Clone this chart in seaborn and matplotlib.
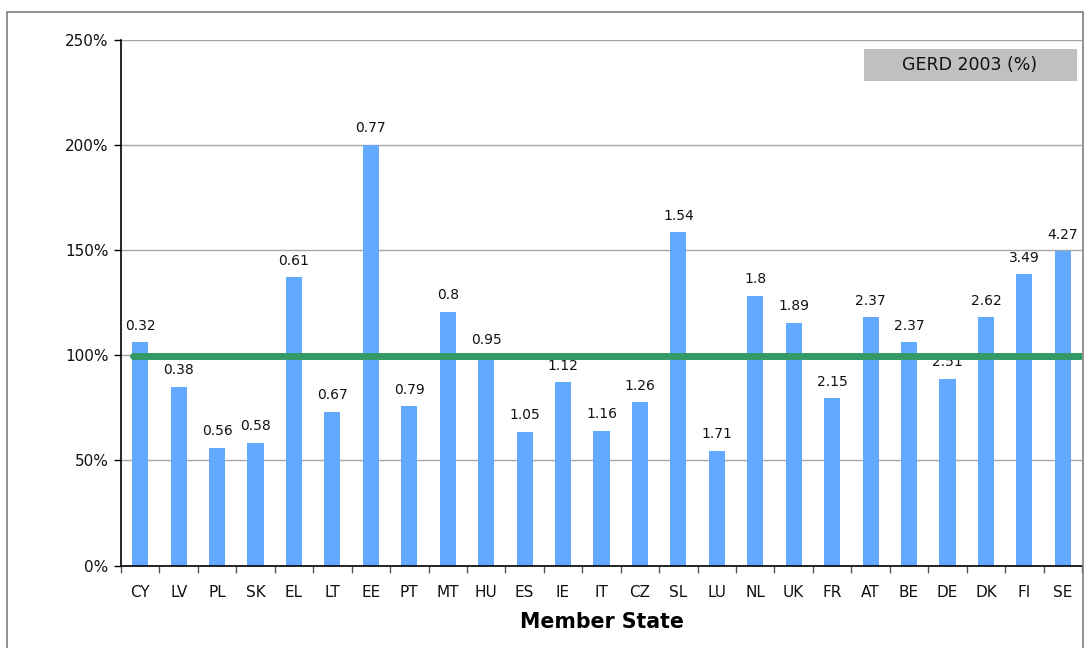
import matplotlib
matplotlib.use("Agg")
import matplotlib.pyplot as plt
import seaborn as sns
import pandas as pd
from matplotlib.patches import Rectangle
from matplotlib.ticker import PercentFormatter, FixedLocator

states = ["CY", "LV", "PL", "SK", "EL", "LT", "EE", "PT", "MT", "HU", "ES", "IE", "IT",
          "CZ", "SL", "LU", "NL", "UK", "FR", "AT", "BE", "DE", "DK", "FI", "SE"]
ratio_pct = [106.1, 84.8, 55.8, 58.2, 137.0, 72.9, 200.0, 75.7, 120.4, 99.0, 63.4, 87.1, 63.9,
             77.6, 158.4, 54.4, 128.0, 115.2, 79.5, 118.0, 106.1, 88.6, 118.0, 138.4, 149.3]
gerd_labels = ["0.32", "0.38", "0.56", "0.58", "0.61", "0.67", "0.77", "0.79", "0.8", "0.95",
               "1.05", "1.12", "1.16", "1.26", "1.54", "1.71", "1.8", "1.89", "2.15", "2.37",
               "2.37", "2.51", "2.62", "3.49", "4.27"]
reference_pct = 99.5
y_ticks = [0, 50, 100, 150, 200, 250]
legend_text = "GERD 2003 (%)"
x_title = "Member State"

sns.set_theme(style="white")
plt.rcParams["font.family"] = ["DejaVu Sans"]

df = pd.DataFrame({"state": states, "ratio": ratio_pct})

W, H = 1085, 648
fig = plt.figure(figsize=(W / 100, H / 100), dpi=100)
ax = fig.add_axes([121 / W, 1 - 565.5 / H, (1082 - 121) / W, (565.5 - 39.5) / H])

# outer frame
fig.patches.append(Rectangle((7 / W, -0.05), (1083 - 7) / W, 1.05 - 12 / H,
                             transform=fig.transFigure, fill=False,
                             edgecolor="#7f7f7f", linewidth=1.2, zorder=0))

sns.barplot(data=df, x="state", y="ratio", color="#62A9FF", saturation=1,
            width=0.42, ax=ax, zorder=2, linewidth=0)

ax.bar_label(ax.containers[0], labels=gerd_labels, padding=7, fontsize=10, color="#111111")

ax.axhline(reference_pct, color="#339966", linewidth=5, zorder=3, xmin=0.012, xmax=1)

ax.set_ylim(0, 250)
ax.set_xlim(-0.5, len(states) - 0.5)
ax.yaxis.set_major_locator(FixedLocator(y_ticks))
ax.yaxis.set_major_formatter(PercentFormatter(decimals=0))
ax.grid(axis="y", color="#a6a6a6", linewidth=1, zorder=0)
ax.set_axisbelow(True)

for s in ["top", "right"]:
    ax.spines[s].set_visible(False)
for s in ["left", "bottom"]:
    ax.spines[s].set_color("black")
    ax.spines[s].set_linewidth(1.2)

ax.tick_params(axis="y", which="major", direction="out", length=5, width=1, color="black",
               labelsize=11, pad=4, left=True, labelcolor="#111111")
ax.tick_params(axis="x", which="major", length=0, labelsize=11, pad=14, labelcolor="#111111")
ax.set_xticks([i + 0.5 for i in range(-1, len(states))], minor=True)
ax.tick_params(axis="x", which="minor", direction="out", length=5, width=1, color="#555555",
               bottom=True)

ax.set_xlabel(x_title, fontsize=14.8, fontweight="bold", labelpad=9, color="black")
ax.set_ylabel("")

# legend-like box
fig.patches.append(Rectangle((864 / W, 1 - 81 / H), (1077 - 864) / W, 32 / H,
                             transform=fig.transFigure, facecolor="#C0C0C0",
                             edgecolor="none", zorder=5))
fig.text(970 / W, 1 - 65.5 / H, legend_text, ha="center", va="center",
         fontsize=12.5, color="#111111", zorder=6)

fig.savefig("out.png", dpi=100)
